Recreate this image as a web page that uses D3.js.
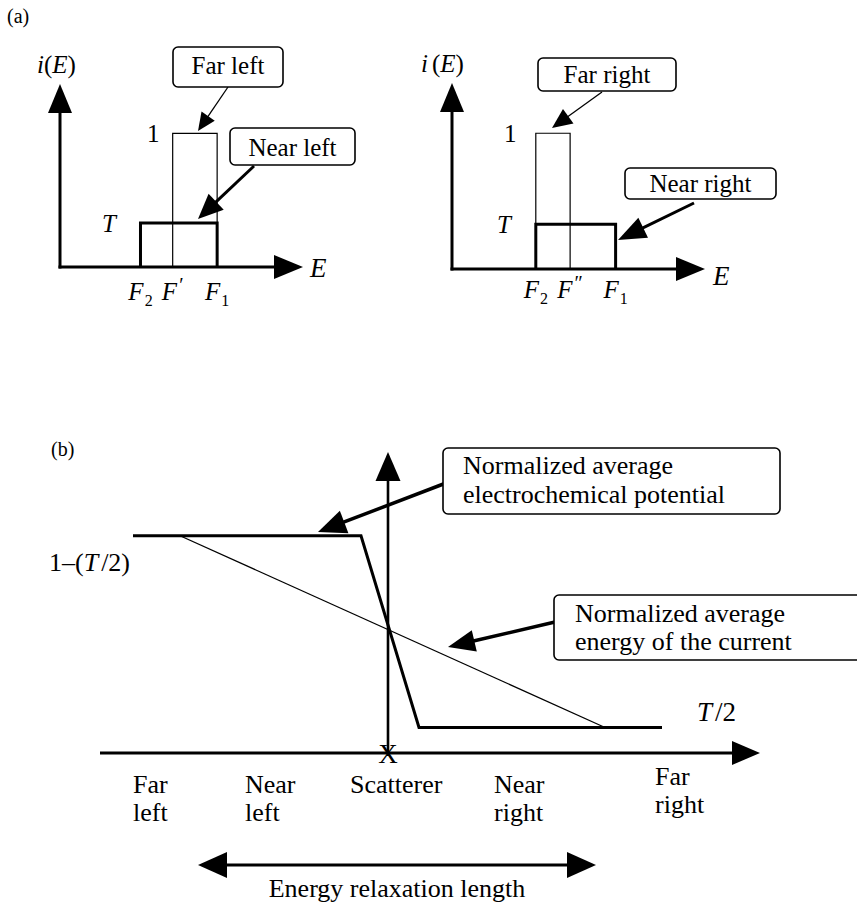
<!DOCTYPE html>
<html>
<head>
<meta charset="utf-8">
<script src="https://cdn.jsdelivr.net/npm/d3@7"></script>
<style>
  body { margin: 0; background: #fff; }
  svg { display: block; }
  text { font-family: "Liberation Serif", "Times New Roman", serif; fill: #000; }
</style>
</head>
<body>
<svg id="fig" width="857" height="907"></svg>
<script>
// ---------------- data ----------------
// (a) current spectra i(E); energies measured with F2 = 0 and F1 = 1
const T_A = 0.33;                       // transmission used in panel (a)
const energyTicksLeft = [
  { base: "F", mark: "2", kind: "sub", e: 0 },
  { base: "F", mark: "\u2032", kind: "prime", e: 0.42 },
  { base: "F", mark: "1", kind: "sub", e: 1 }
];
const energyTicksRight = [
  { base: "F", mark: "2", kind: "sub", e: 0 },
  { base: "F", mark: "\u2033", kind: "prime", e: 0.43 },
  { base: "F", mark: "1", kind: "sub", e: 1 }
];
const spectraLeft = [
  { name: "Far left", from: 0.42, to: 1, level: 1, heavy: false },
  { name: "Near left", from: 0, to: 1, level: T_A, heavy: true }
];
const spectraRight = [
  { name: "Far right", from: 0, to: 0.43, level: 1, heavy: false },
  { name: "Near right", from: 0, to: 1, level: T_A, heavy: true }
];
const levelTicksA = [
  { label: "1", v: 1, italic: false },
  { label: "T", v: T_A, italic: true }
];

// (b) profiles along the conductor; scatterer at u = 0
const T_B = 0.21;                       // transmission used in panel (b)
const positionLabels = [
  { lines: ["Far", "left"], u: -2.55 },
  { lines: ["Near", "left"], u: -1.43 },
  { lines: ["Scatterer"], u: -0.38 },
  { lines: ["Near", "right"], u: 1.06 },
  { lines: ["Far", "right"], u: 2.67 }
];
const potentialU = [-2.55, -0.27, 0.31, 2.74];
const potentialV = [1 - T_B / 2, 1 - T_B / 2, T_B / 2, T_B / 2];
const energyU = [-2.08, 2.17];
const energyV = [1 - T_B / 2, T_B / 2];
const relaxationSpan = [-1.9, 2.08];

// ---------------- helpers ----------------
const svg = d3.select("#fig");

function arrowHead(g, x1, y1, x2, y2, len, half) {
  const L = Math.hypot(x2 - x1, y2 - y1), ux = (x2 - x1) / L, uy = (y2 - y1) / L;
  const bx = x2 - ux * len, by = y2 - uy * len, px = -uy * half, py = ux * half;
  g.append("path")
    .attr("d", `M${x2},${y2}L${bx + px},${by + py}L${bx - px},${by - py}Z`)
    .attr("fill", "#000");
  return [bx + ux * 2, by + uy * 2];
}
function arrow(g, x1, y1, x2, y2, sw, len, half) {
  const [bx, by] = arrowHead(g, x1, y1, x2, y2, len, half);
  g.append("line").attr("x1", x1).attr("y1", y1).attr("x2", bx).attr("y2", by)
    .attr("stroke", "#000").attr("stroke-width", sw);
}
function callout(g, box, lines, fs, tx, baselines, anchor) {
  g.append("rect").attr("x", box.x).attr("y", box.y).attr("width", box.w).attr("height", box.h)
    .attr("rx", 5).attr("fill", "#fff").attr("stroke", "#000").attr("stroke-width", 1.6);
  lines.forEach((s, i) => {
    g.append("text").attr("x", tx).attr("y", baselines[i]).attr("font-size", fs)
      .attr("text-anchor", anchor).text(s);
  });
}

// ---------------- panel (a) ----------------
svg.append("text").attr("x", 7).attr("y", 23).attr("font-size", 20).text("(a)");

const panelsA = [
  {
    ticks: energyTicksLeft, spectra: spectraLeft,
    xr: [60, 303], yr: [267, 84],
    yLabel: { x: 37, y: 73, gap: 0 }, eLabel: { x: 310, y: 277 }, tickBase: 300,
    levelX: { "1": 147, "T": 102 },
    callouts: {
      "Far left": { box: { x: 173, y: 47, w: 110, h: 40 }, base: 74, from: [228, 87], to: [198, 131], sw: 1.3, len: 18, half: 8 },
      "Near left": { box: { x: 230, y: 128, w: 125, h: 37 }, base: 156, from: [254, 166], to: [198, 219], sw: 3, len: 25, half: 11 }
    }
  },
  {
    ticks: energyTicksRight, spectra: spectraRight,
    xr: [452, 705], yr: [269, 83],
    yLabel: { x: 421, y: 72, gap: 4 }, eLabel: { x: 713, y: 285 }, tickBase: 298,
    levelX: { "1": 504, "T": 497 },
    callouts: {
      "Far right": { box: { x: 538, y: 58, w: 138, h: 33 }, base: 83, from: [602, 92], to: [552, 128], sw: 1.3, len: 20, half: 9 },
      "Near right": { box: { x: 625, y: 168, w: 151, h: 31 }, base: 192, from: [694, 203], to: [618, 240], sw: 3, len: 28, half: 11 }
    }
  }
];

panelsA.forEach(p => {
  const g = svg.append("g");
  const x = d3.scaleLinear().domain([-1.05, 2.12]).range(p.xr);
  const y = d3.scaleLinear().domain([0, 1.37]).range(p.yr);
  const x0 = x.range()[0], y0 = y.range()[0];

  // spectra (outline: left side, top, right side)
  p.spectra.forEach(s => {
    g.append("path")
      .attr("d", `M${x(s.from)},${y(0)}V${y(s.level)}H${x(s.to)}V${y(0)}`)
      .attr("fill", "none").attr("stroke", "#000")
      .attr("stroke-width", s.heavy ? 3 : 1.2);
  });

  // axes with arrow heads
  arrow(g, x0, y0 + 1.5, x0, y.range()[1], 3, 29, 12);
  arrow(g, x0 - 1.5, y0, x.range()[1], y0, 3, 29, 12);

  // axis titles
  const yl = g.append("text").attr("x", p.yLabel.x).attr("y", p.yLabel.y).attr("font-size", 25);
  yl.append("tspan").attr("font-style", "italic").text("i");
  yl.append("tspan").attr("dx", p.yLabel.gap).text("(");
  yl.append("tspan").attr("font-style", "italic").text("E");
  yl.append("tspan").text(")");
  g.append("text").attr("x", p.eLabel.x).attr("y", p.eLabel.y).attr("font-size", 27)
    .attr("font-style", "italic").text("E");

  // energy tick labels
  p.ticks.forEach(t => {
    const tx = g.append("text").attr("x", x(t.e)).attr("y", p.tickBase)
      .attr("font-size", 25).attr("text-anchor", "middle");
    tx.append("tspan").attr("font-style", "italic").text(t.base);
    if (t.kind === "sub") {
      tx.append("tspan").attr("font-size", 16).attr("dy", 6).attr("dx", 1).text(t.mark);
    } else {
      tx.append("tspan").attr("font-size", 20).attr("dy", -8).attr("dx", 2).text(t.mark);
    }
  });

  // level labels
  levelTicksA.forEach(l => {
    g.append("text").attr("x", p.levelX[l.label]).attr("y", y(l.v) + 9)
      .attr("font-size", 25).attr("font-style", l.italic ? "italic" : "normal").text(l.label);
  });

  // callouts
  p.spectra.forEach(s => {
    const c = p.callouts[s.name];
    arrow(g, c.from[0], c.from[1], c.to[0], c.to[1], c.sw, c.len, c.half);
    callout(g, c.box, [s.name], 25, c.box.x + c.box.w / 2, [c.base], "middle");
  });
});

// ---------------- panel (b) ----------------
svg.append("text").attr("x", 51).attr("y", 456).attr("font-size", 20).text("(b)");

const gb = svg.append("g");
const xb = d3.scaleLinear().domain([-2.88, 3.72]).range([100, 760]);
const yb = d3.scaleLinear().domain([0, 1.24]).range([753, 452]);

// energy of the current (thin) and electrochemical potential (thick)
const line = d3.line().x(d => xb(d[0])).y(d => yb(d[1]));
gb.append("path").attr("d", line(d3.zip(energyU, energyV)))
  .attr("fill", "none").attr("stroke", "#000").attr("stroke-width", 1.3);
gb.append("path").attr("d", line(d3.zip(potentialU, potentialV)))
  .attr("fill", "none").attr("stroke", "#000").attr("stroke-width", 3).attr("stroke-linejoin", "miter");

// axes
arrow(gb, xb(0), yb(0) + 3, xb(0), yb.range()[1], 2.6, 29, 12.5);
arrow(gb, xb.range()[0], yb(0), xb.range()[1], yb(0), 3, 28, 12);
gb.append("text").attr("x", xb(0)).attr("y", yb(0) + 10).attr("font-size", 27)
  .attr("text-anchor", "middle").text("X");

// level labels
const hiLab = gb.append("text").attr("x", 49).attr("y", yb(1 - T_B / 2) + 35).attr("font-size", 26);
hiLab.append("tspan").text("1\u2013(");
hiLab.append("tspan").attr("font-style", "italic").text("T");
hiLab.append("tspan").attr("dx", 3).text("/2)");
const loLab = gb.append("text").attr("x", 697).attr("y", yb(T_B / 2) - 7).attr("font-size", 27);
loLab.append("tspan").attr("font-style", "italic").text("T");
loLab.append("tspan").attr("dx", 3).text("/2");

// position labels
positionLabels.forEach((p, i) => {
  const lift = i === positionLabels.length - 1 ? 8 : 0;
  const t = gb.append("text").attr("x", xb(p.u)).attr("y", 793 - lift).attr("font-size", 26);
  p.lines.forEach((s, k) => {
    t.append("tspan").attr("x", xb(p.u)).attr("dy", k === 0 ? 0 : 28).text(s);
  });
});

// energy relaxation length
const ra = xb(relaxationSpan[0]), rb = xb(relaxationSpan[1]), ry = 865;
arrowHead(gb, rb, ry, ra, ry, 29, 13);
arrowHead(gb, ra, ry, rb, ry, 29, 13);
gb.append("line").attr("x1", ra + 20).attr("x2", rb - 20).attr("y1", ry).attr("y2", ry)
  .attr("stroke", "#000").attr("stroke-width", 3);
gb.append("text").attr("x", (ra + rb) / 2).attr("y", 897).attr("font-size", 26)
  .attr("text-anchor", "middle").text("Energy relaxation length");

// callouts
arrow(gb, 446, 483, 318, 532, 3.5, 28, 12);
callout(gb, { x: 443, y: 448, w: 337, h: 66 },
  ["Normalized average", "electrochemical potential"], 26, 463, [474, 503], "start");
arrow(gb, 555, 622, 448, 647, 3.5, 27, 11);
callout(gb, { x: 554, y: 595, w: 340, h: 65 },
  ["Normalized average", "energy of the current"], 26, 575, [622, 650], "start");
</script>
</body>
</html>
